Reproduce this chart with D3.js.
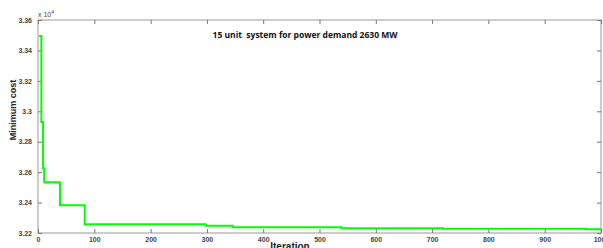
<!DOCTYPE html>
<html>
<head>
<meta charset="utf-8">
<script src="https://cdn.jsdelivr.net/npm/d3@7"></script>
<style>
  body { margin: 0; background: #fff; }
  text { font-family: "Liberation Sans", Arial, sans-serif; }
</style>
</head>
<body>
<svg width="603" height="248"></svg>
<script>
// best cost per iteration (step changes only)
var iterations = [2, 6, 9, 11, 39, 83, 298, 346, 539, 719, 973, 1000];
var costs = [33495, 32930, 32625, 32533, 32382, 32257, 32248, 32237, 32231, 32228, 32225, 32225];
var xTicks = [0, 100, 200, 300, 400, 500, 600, 700, 800, 900, 1000];
var yTicks = [32200, 32400, 32600, 32800, 33000, 33200, 33400, 33600];

var svg = d3.select('svg');
var pLeft = 38, pRight = 601, pTop = 20, pBottom = 233;

var x = d3.scaleLinear().domain([0, 1000]).range([pLeft, pRight]);
var y = d3.scaleLinear().domain([32200, 33600]).range([pBottom, pTop]);

var data = iterations.map(function(d, i) { return {it: d, c: costs[i]}; });

// frame
svg.append('rect')
  .attr('x', pLeft).attr('y', pTop)
  .attr('width', pRight - pLeft).attr('height', pBottom - pTop)
  .attr('fill', 'none').attr('stroke', '#999').attr('stroke-width', 1);

var fmt = function(d) { return String(+(d / 1e4).toFixed(2)); };

// axes with inward ticks
svg.append('g').attr('transform', 'translate(0,' + pBottom + ')')
  .call(d3.axisBottom(x).tickValues(xTicks).tickSize(-4).tickPadding(4).tickFormat(d3.format('d')))
  .call(function(g) { g.select('.domain').remove(); });
svg.append('g').attr('transform', 'translate(0,' + pTop + ')')
  .call(d3.axisTop(x).tickValues(xTicks).tickSize(-4).tickFormat(''))
  .call(function(g) { g.select('.domain').remove(); });
svg.append('g').attr('transform', 'translate(' + pLeft + ',0)')
  .call(d3.axisLeft(y).tickValues(yTicks).tickSize(-4).tickPadding(6).tickFormat(fmt))
  .call(function(g) { g.select('.domain').remove(); });
svg.append('g').attr('transform', 'translate(' + pRight + ',0)')
  .call(d3.axisRight(y).tickValues(yTicks).tickSize(-4).tickFormat(''))
  .call(function(g) { g.select('.domain').remove(); });

svg.selectAll('.tick line').attr('stroke', '#777');
svg.selectAll('.tick text')
  .attr('fill', '#444')
  .style('font-size', '7px')
  .style('font-weight', 'bold')
  .style('font-family', '"Liberation Sans", Arial, sans-serif');

// multiplier
var mult = svg.append('text').attr('x', pLeft).attr('y', pTop - 3)
  .style('font-size', '7px').attr('fill', '#444');
mult.append('tspan').text('x 10');
mult.append('tspan').attr('dy', -3).style('font-size', '5px').text('4');

// line
svg.append('path')
  .datum(data)
  .attr('fill', 'none')
  .attr('stroke', '#00ff00')
  .attr('stroke-width', 2)
  .attr('d', d3.line()
    .curve(d3.curveStepAfter)
    .x(function(d) { return x(d.it); })
    .y(function(d) { return y(d.c); }));

// title
svg.append('text')
  .attr('x', 305).attr('y', 38)
  .attr('text-anchor', 'middle')
  .style('font-family', '"Open Sans", sans-serif')
  .style('font-size', '8.5px')
  .style('font-weight', 'bold')
  .attr('fill', '#111')
  .attr('xml:space', 'preserve')
  .text('15 unit  system for power demand 2630 MW');

// axis labels
svg.append('text')
  .attr('transform', 'translate(16,110) rotate(-90)')
  .attr('text-anchor', 'middle')
  .style('font-size', '9px').style('font-weight', 'bold')
  .attr('fill', '#222')
  .text('Minimum cost');
svg.append('text')
  .attr('x', 290).attr('y', 250)
  .attr('text-anchor', 'middle')
  .style('font-size', '10px').style('font-weight', 'bold')
  .attr('fill', '#222')
  .text('Iteration');
</script>
</body>
</html>
